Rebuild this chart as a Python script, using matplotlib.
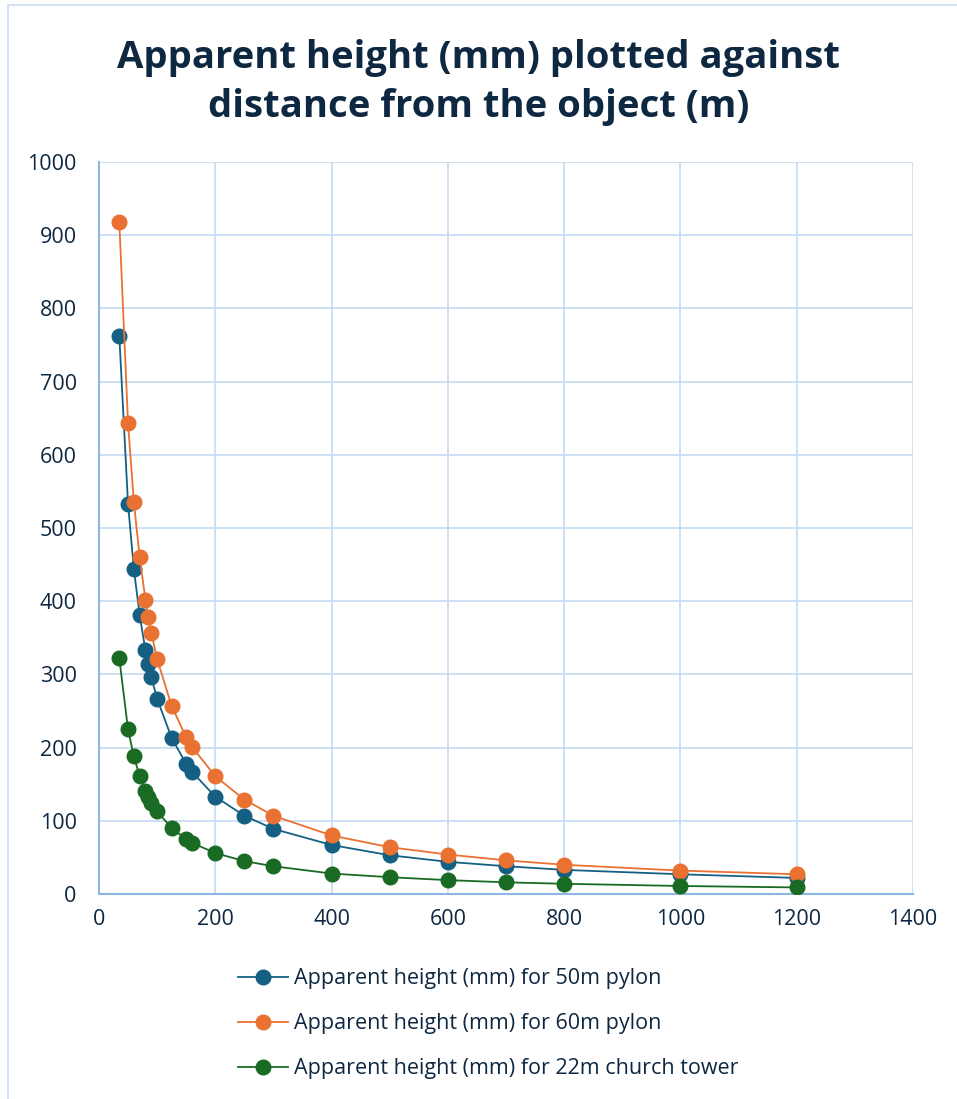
import matplotlib.pyplot as plt
from matplotlib.patches import Rectangle

# distance from object (m)
distance = [35, 50, 60, 70, 80, 85, 90, 100, 125, 150, 160, 200, 250, 300,
            400, 500, 600, 700, 800, 1000, 1200]

# apparent height (mm)
pylon_50 = [762, 533, 444, 381, 333, 314, 296, 267, 213, 178, 167, 133, 107, 89,
            67, 53, 44, 38, 33, 27, 22]
pylon_60 = [918, 643, 536, 460, 402, 378, 357, 321, 257, 214, 201, 161, 129, 107,
            80, 64, 54, 46, 40, 32, 27]
church_22 = [322, 225, 188, 161, 141, 133, 125, 113, 90, 75, 70, 56, 45, 38,
             28, 23, 19, 16, 14, 11, 9]

labels = ['Apparent height (mm) for 50m pylon',
          'Apparent height (mm) for 60m pylon',
          'Apparent height (mm) for 22m church tower']
colors = ['#156082', '#E97132', '#196B24']

text_col = '#0E2841'
grid_col = '#C5DCF2'
axis_col = '#8DB6E2'

plt.rcParams['font.family'] = ['Open Sans', 'DejaVu Sans']

fig = plt.figure(figsize=(9.57, 10.99), dpi=100)
ax = fig.add_axes([0.1034, 0.1865, 0.8506, 0.6661])

for ys, lab, c in zip([pylon_50, pylon_60, church_22], labels, colors):
    ax.plot(distance, ys, color=c, lw=1.3, marker='o', markersize=10.5,
            markeredgecolor=c, label=lab, zorder=3)

ax.set_xlim(0, 1400)
ax.set_ylim(0, 1000)
ax.set_xticks(range(0, 1401, 200))
ax.set_yticks(range(0, 1001, 100))
ax.grid(True, color=grid_col, lw=1.2, zorder=0)
ax.set_axisbelow(True)

for s in ['top', 'right']:
    ax.spines[s].set_visible(False)
for s in ['left', 'bottom']:
    ax.spines[s].set_color(axis_col)
    ax.spines[s].set_linewidth(1.5)

ax.tick_params(axis='both', length=0, labelsize=15.5, labelcolor=text_col)
ax.tick_params(axis='x', pad=11)
ax.tick_params(axis='y', pad=16)

fig.text(0.5, 0.925, 'Apparent height (mm) plotted against\ndistance from the object (m)',
         ha='center', va='center', fontsize=27.5, fontweight='bold', color=text_col,
         linespacing=1.36)

leg = fig.legend(loc='upper left', bbox_to_anchor=(0.24, 0.127), frameon=False,
                 fontsize=15.5, labelspacing=1.12, handlelength=2.3,
                 handletextpad=0.3, borderaxespad=0)
for t in leg.get_texts():
    t.set_color(text_col)

# chart border
fig.patches.append(Rectangle((0.008, -0.01), 1.0, 1.005, transform=fig.transFigure,
                             fill=False, edgecolor='#D3E3F4', lw=1.5))

fig.savefig('out.png', dpi=100)
